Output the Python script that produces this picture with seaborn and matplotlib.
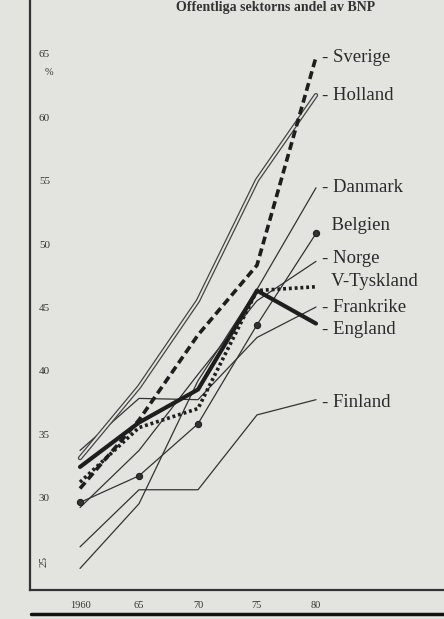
import numpy as np
import pandas as pd
import seaborn as sns
import matplotlib.pyplot as plt
from matplotlib import transforms

# Data (percent of GDP)
years = [1960, 1965, 1970, 1975, 1980]
sverige = [31.5, 36.9, 43.6, 49.1, 65.5]
holland = [33.9, 39.5, 46.3, 55.8, 62.5]
danmark = [25.2, 30.3, 40.0, 47.2, 55.2]
belgien = [30.4, 32.5, 36.6, 44.4, 51.6]
norge = [30.0, 34.5, 40.5, 46.3, 49.4]
vtyskland = [32.0, 36.3, 37.8, 47.1, 47.4]
frankrike = [34.5, 38.6, 38.5, 43.4, 45.8]
england = [33.2, 36.7, 39.3, 47.1, 44.5]
finland = [26.9, 31.4, 31.4, 37.3, 38.5]

countries = ['Sverige', 'Holland', 'Danmark', 'Belgien', 'Norge',
             'V-Tyskland', 'Frankrike', 'England', 'Finland']
label_y = [65.5, 62.5, 55.2, 52.2, 49.6, 47.8, 45.8, 44.0, 38.3]
label_dash = [True, True, True, False, True, False, True, True, True]

yticks = [25, 30, 35, 40, 45, 50, 55, 60, 65]
xticks = [1960, 1965, 1970, 1975, 1980]
xticklabels = ['1960', '65', '70', '75', '80']

series = [sverige, holland, danmark, belgien, norge,
          vtyskland, frankrike, england, finland]
df = pd.DataFrame({'year': years * len(countries),
                   'value': sum(series, []),
                   'land': np.repeat(countries, len(years))})

bg = '#e3e3e0'
ink = '#1e1e1e'

sns.set_style('white')
plt.rcParams['font.family'] = ['Liberation Serif', 'DejaVu Serif']

fig = plt.figure(figsize=(4.44, 6.19), dpi=100, facecolor=bg)
ax = fig.add_axes([30 / 444, 29 / 619, 414 / 444, 590 / 619])
ax.set_facecolor(bg)

def d(name):
    return df[df['land'] == name]

# thin lines
for name in ['Danmark', 'Norge', 'Frankrike', 'Finland']:
    sns.lineplot(data=d(name), x='year', y='value', ax=ax, color='#333333',
                 lw=0.9, legend=False)
sns.lineplot(data=d('Belgien'), x='year', y='value', ax=ax, color='#333333',
             lw=0.9, marker='o', markersize=4.5, markeredgecolor=ink, legend=False)

# Holland: double outlined line
sns.lineplot(data=d('Holland'), x='year', y='value', ax=ax, color='#444444',
             lw=3.2, legend=False)
sns.lineplot(data=d('Holland'), x='year', y='value', ax=ax, color=bg,
             lw=1.4, legend=False)

# heavy lines
sns.lineplot(data=d('Sverige'), x='year', y='value', ax=ax, color=ink,
             lw=2.6, legend=False).lines[-1].set_dashes([2.2, 1.2])
sns.lineplot(data=d('V-Tyskland'), x='year', y='value', ax=ax, color=ink,
             lw=2.6, legend=False).lines[-1].set_dashes([0.8, 0.8])
sns.lineplot(data=d('England'), x='year', y='value', ax=ax, color=ink,
             lw=3.0, legend=False)

# labels at the right end
for name, ly, dash in zip(countries, label_y, label_dash):
    ax.text(1980.5, ly, ('- ' if dash else '  ') + name, fontsize=13.5,
            color='#2a2a2a', va='center', ha='left')

# axes
ax.set_xlim(1955.76, 1990.85)
ax.set_ylim(23.5, 70.0)
for s in ['top', 'right']:
    ax.spines[s].set_visible(False)
for s in ['left', 'bottom']:
    ax.spines[s].set_color('#333333')
    ax.spines[s].set_linewidth(1.6)

ax.set_yticks(yticks)
ax.set_yticklabels([])
ax.tick_params(axis='y', direction='in', length=24, width=1.0, colors='#333333')
ax.set_xticks(xticks)
ax.set_xticklabels(xticklabels, fontsize=7.5, color='#333333')
ax.tick_params(axis='x', direction='in', length=6, width=1.0, pad=8,
               colors='#333333')
ax.set_xlabel('')
ax.set_ylabel('')

# y tick labels sit above the tick lines
trans = transforms.blended_transform_factory(ax.transAxes, ax.transData)
off = transforms.ScaledTranslation(0, 3 / 72, fig.dpi_scale_trans)
for v in yticks:
    ax.text(0.035, v, str(v), fontsize=8, color='#333333', ha='center',
            va='bottom', rotation=90 if v == 25 else 0,
            transform=trans + off)
ax.text(0.045, 65, '%', fontsize=7.5, color='#333333', ha='center',
        va='top', transform=trans - off)

# title at the top edge of the page
fig.text(0.62, 0.999, 'Offentliga sektorns andel av BNP', fontsize=10,
         fontweight='bold', color='#333333', ha='center', va='top')

# bottom edge line of the printed page
fig.add_artist(plt.Line2D([0.07, 1.0], [0.008, 0.008], color='#111111', lw=2.5))

fig.savefig('out.png', dpi=100, facecolor=bg)
